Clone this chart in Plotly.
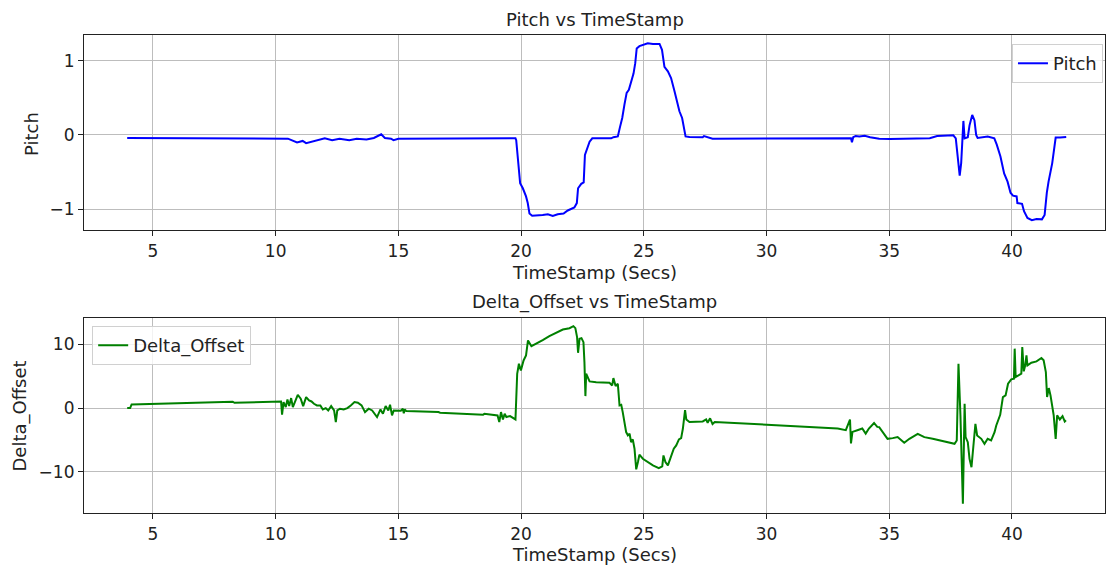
import plotly.graph_objects as go
from plotly.subplots import make_subplots

# ---- Pitch series (time in seconds, pitch value) ----
pitch_t = [3.95, 10.2, 10.5, 10.87, 11.1, 11.24, 11.6, 12.0, 12.3, 12.6, 13.0, 13.3, 13.7, 14.0,
           14.3, 14.45, 14.7, 14.8, 15.0, 19.77, 19.8, 19.86, 19.96, 20.07, 20.2, 20.27, 20.34,
           20.45, 20.61, 20.88, 21.09, 21.29, 21.49, 21.73, 21.9, 22.17, 22.27, 22.32, 22.45,
           22.55, 22.6, 22.68, 22.79, 22.9, 23.33, 23.67, 23.76, 23.94, 24.03, 24.12, 24.21,
           24.3, 24.39, 24.48, 24.58, 24.65, 24.71, 24.82, 24.96, 25.16, 25.37, 25.64, 25.74,
           25.84, 25.98, 26.11, 26.25, 26.39, 26.45, 26.56, 26.63, 26.7, 26.86, 27.4, 27.45,
           27.8, 33.44, 33.48, 33.53, 33.63, 33.78, 34.0, 34.22, 34.59, 35.03, 36.06, 36.65,
           36.95, 37.61, 37.71, 37.8, 37.87, 37.93, 37.98, 38.02, 38.07, 38.2, 38.27, 38.38,
           38.47, 38.54, 38.6, 39.01, 39.28, 39.38, 39.53, 39.68, 39.82, 39.94, 40.04, 40.19,
           40.22, 40.41, 40.49, 40.63, 40.81, 41.0, 41.22, 41.33, 41.42, 41.49, 41.64, 41.78,
           41.96, 42.21]
pitch_v = [-0.04, -0.04, -0.05, -0.10, -0.08, -0.11, -0.08, -0.045, -0.07, -0.05, -0.07, -0.05,
           -0.06, -0.04, 0.01, -0.04, -0.05, -0.07, -0.05, -0.045, -0.07, -0.29, -0.65, -0.72,
           -0.83, -0.92, -1.06, -1.09, -1.09, -1.08, -1.07, -1.095, -1.07, -1.06, -1.02, -0.98,
           -0.92, -0.72, -0.66, -0.64, -0.27, -0.2, -0.09, -0.045, -0.04, -0.045, -0.03, -0.02,
           0.11, 0.23, 0.41, 0.57, 0.61, 0.72, 0.83, 0.97, 1.17, 1.2, 1.22, 1.24, 1.23, 1.23,
           1.15, 0.92, 0.86, 0.77, 0.59, 0.41, 0.32, 0.23, 0.07, -0.02, -0.027, -0.03, -0.015,
           -0.05, -0.045, -0.10, -0.03, -0.015, -0.02, -0.01, -0.03, -0.05, -0.055, -0.055,
           -0.045, -0.013, -0.005, -0.045, -0.29, -0.55, -0.38, -0.07, 0.19, -0.045, -0.03,
           0.13, 0.27, 0.2, 0.0, -0.04, -0.02, -0.045, -0.13, -0.29, -0.52, -0.63, -0.78, -0.82,
           -0.83, -0.92, -0.93, -1.03, -1.12, -1.15, -1.135, -1.14, -1.08, -0.78, -0.63, -0.38,
           -0.035, -0.035, -0.027]

# ---- Delta_Offset series ----
delta_t = [3.95, 4.07, 4.13, 6.0, 8.25, 8.32, 10.22, 10.26, 10.32, 10.41, 10.48, 10.55, 10.63,
           10.7, 10.8, 10.9, 11.02, 11.12, 11.24, 11.36, 11.46, 11.56, 11.68, 11.82, 11.92,
           12.04, 12.14, 12.26, 12.38, 12.45, 12.51, 12.62, 12.77, 12.92, 13.06, 13.21, 13.35,
           13.5, 13.64, 13.79, 13.93, 14.13, 14.27, 14.37, 14.48, 14.59, 14.66, 14.74, 14.81,
           15.1, 15.18, 15.22, 15.26, 15.32, 16.63, 16.7, 18.45, 18.5, 19.04, 19.11, 19.18,
           19.26, 19.33, 19.4, 19.55, 19.69, 19.77, 19.84, 19.91, 19.99, 20.1, 20.2, 20.28,
           20.42, 20.61, 20.88, 21.15, 21.43, 21.7, 21.97, 22.13, 22.21, 22.28, 22.32, 22.38,
           22.46, 22.54, 22.58, 22.62, 22.65, 22.72, 22.79, 23.06, 23.4, 23.6, 23.71, 23.76,
           23.85, 23.94, 24.01, 24.08, 24.14, 24.21, 24.28, 24.35, 24.42, 24.48, 24.55, 24.62,
           24.69, 24.76, 24.82, 24.96, 25.16, 25.37, 25.61, 25.75, 25.8, 25.88, 25.98, 26.11,
           26.22, 26.32, 26.43, 26.52, 26.59, 26.68, 26.73, 26.86, 27.13, 27.4, 27.54, 27.6,
           27.7, 27.8, 27.89, 32.9, 33.23, 33.4, 33.44, 33.5, 33.7, 33.9, 34.04, 34.17, 34.38,
           34.51, 34.59, 34.73, 34.93, 35.14, 35.34, 35.61, 35.82, 36.16, 36.43, 36.77, 37.11,
           37.38, 37.66, 37.75, 37.82, 37.9, 38.0, 38.07, 38.11, 38.2, 38.27, 38.35, 38.43,
           38.51, 38.58, 38.75, 38.88, 39.01, 39.15, 39.29, 39.36, 39.42, 39.52, 39.63, 39.74,
           39.84, 39.97, 40.08, 40.11, 40.15, 40.25, 40.31, 40.38, 40.42, 40.48, 40.54, 40.59,
           40.63, 40.79, 41.0, 41.2, 41.29, 41.38, 41.43, 41.5, 41.57, 41.65, 41.7, 41.78,
           41.84, 41.95, 42.06, 42.15, 42.2]
delta_v = [0.0, 0.0, 0.57, 0.73, 1.0, 0.84, 1.04, -1.04, 0.94, 0.16, 1.36, 0.31, 1.57, 0.16,
           1.2, 2.09, 1.46, 0.31, 1.72, 1.2, 1.04, 0.68, 0.42, 0.42, -0.21, 0.0, -0.37, 0.31,
           -0.37, -2.19, -0.37, -0.1, -0.21, 0.0, 0.42, 0.94, 0.84, 0.42, -0.63, -0.1, -0.37,
           -1.41, -0.21, -0.89, 0.31, -0.37, 0.52, -1.15, -0.37, -0.42, -0.1, -0.8, -0.2, -0.47,
           -0.63, -0.73, -1.04, -0.9, -1.15, -2.19, -0.63, -1.78, -0.89, -1.41, -1.25, -1.67,
           -1.78, 5.38, 6.95, 5.9, 7.47, 8.25, 10.6, 9.71, 10.08, 10.65, 11.28, 11.8, 12.32,
           12.53, 12.85, 12.53, 11.12, 8.67, 10.86, 10.97, 10.34, 7.2, 1.88, 5.38, 4.86, 4.18,
           4.07, 4.07, 3.97, 3.55, 4.7, 3.45, 3.81, 0.42, 0.52, -0.63, -2.19, -3.76, -4.28,
           -4.02, -5.33, -4.91, -6.37, -9.6, -8.46, -7.31, -7.94, -8.46, -8.98, -9.4, -9.14,
           -7.42, -8.46, -8.98, -7.68, -6.37, -5.85, -4.91, -4.7, -3.24, -0.3, -1.78, -2.19,
           -2.19, -2.09, -1.78, -2.3, -1.6, -2.5, -2.18, -3.2, -3.47, -1.81, -5.54, -3.73,
           -3.47, -3.2, -4.0, -3.2, -2.33, -2.95, -2.98, -3.77, -4.82, -4.71, -4.55, -5.44,
           -4.82, -4.03, -4.55, -4.82, -5.08, -5.34, -5.6, -5.08, 6.96, -1.15, -15.0, 0.68,
           -4.55, -5.34, -7.96, -9.27, -6.39, -2.46, -4.29, -4.82, -5.6, -4.82, -5.08, -3.77,
           -2.72, -2.2, -1.05, 1.73, 1.99, 3.82, 4.5, 4.61, 9.32, 4.87, 5.13, 5.24, 5.39, 9.58,
           5.76, 6.7, 8.27, 6.7, 7.12, 7.33, 7.85, 7.49, 5.65, 1.73, 3.14, 1.99, 0.16, -1.15,
           -4.82, -1.15, -1.78, -1.26, -2.09, -1.9]

x_ticks = [5, 10, 15, 20, 25, 30, 35, 40]
pitch_ticks = [-1, 0, 1]
delta_ticks = [-10, 0, 10]

FONT = "DejaVu Sans"
fig = make_subplots(rows=2, cols=1)

fig.add_trace(go.Scatter(x=pitch_t, y=pitch_v, mode="lines", name="Pitch",
                         line=dict(color="#0000ff", width=2), legend="legend"), row=1, col=1)
fig.add_trace(go.Scatter(x=delta_t, y=delta_v, mode="lines", name="Delta_Offset",
                         line=dict(color="#008000", width=2), legend="legend2"), row=2, col=1)

axis_common = dict(showline=True, mirror=True, linecolor="#222222", linewidth=1.2,
                   showgrid=True, gridcolor="#bdbdbd", gridwidth=1, zeroline=False,
                   ticks="outside", ticklen=5, tickcolor="#222222",
                   tickfont=dict(family=FONT, size=17, color="#222222"))

fig.update_layout(
    width=1106, height=565,
    margin=dict(l=84, r=1, t=35, b=52),
    plot_bgcolor="white", paper_bgcolor="white",
    font=dict(family=FONT, color="#222222"),
    xaxis=dict(domain=[0, 1], range=[2.19, 43.79], tickvals=x_ticks, **axis_common),
    xaxis2=dict(domain=[0, 1], range=[2.19, 43.79], tickvals=x_ticks, **axis_common),
    yaxis=dict(domain=[0.592, 1], range=[-1.284, 1.351], tickvals=pitch_ticks, **axis_common),
    yaxis2=dict(domain=[0, 0.408], range=[-16.45, 14.13], tickvals=delta_ticks, **axis_common),
    legend=dict(x=0.998, y=0.981, xanchor="right", yanchor="top",
                bgcolor="rgba(255,255,255,0.8)", bordercolor="#d0d0d0", borderwidth=1,
                font=dict(family=FONT, size=18, color="#222222")),
    legend2=dict(x=0.008, y=0.391, xanchor="left", yanchor="top",
                 bgcolor="rgba(255,255,255,0.8)", bordercolor="#d0d0d0", borderwidth=1,
                 font=dict(family=FONT, size=18, color="#222222")),
    showlegend=True,
)

ann_font = dict(family=FONT, size=18, color="#222222")
annotations = [
    dict(text="Pitch vs TimeStamp", x=0.5, y=1.0314, xref="paper", yref="paper",
         xanchor="center", yanchor="middle", showarrow=False, font=ann_font),
    dict(text="Delta_Offset vs TimeStamp", x=0.5, y=0.4414, xref="paper", yref="paper",
         xanchor="center", yanchor="middle", showarrow=False, font=ann_font),
    dict(text="TimeStamp (Secs)", x=0.5, y=0.504, xref="paper", yref="paper",
         xanchor="center", yanchor="middle", showarrow=False, font=ann_font),
    dict(text="TimeStamp (Secs)", x=0.5, y=-0.087, xref="paper", yref="paper",
         xanchor="center", yanchor="middle", showarrow=False, font=ann_font),
    dict(text="Pitch", x=-0.0509, y=0.793, xref="paper", yref="paper", textangle=-90,
         xanchor="center", yanchor="middle", showarrow=False, font=ann_font),
    dict(text="Delta_Offset", x=-0.0631, y=0.203, xref="paper", yref="paper", textangle=-90,
         xanchor="center", yanchor="middle", showarrow=False, font=ann_font),
]
fig.update_layout(annotations=annotations)

fig.write_html("out.html")
